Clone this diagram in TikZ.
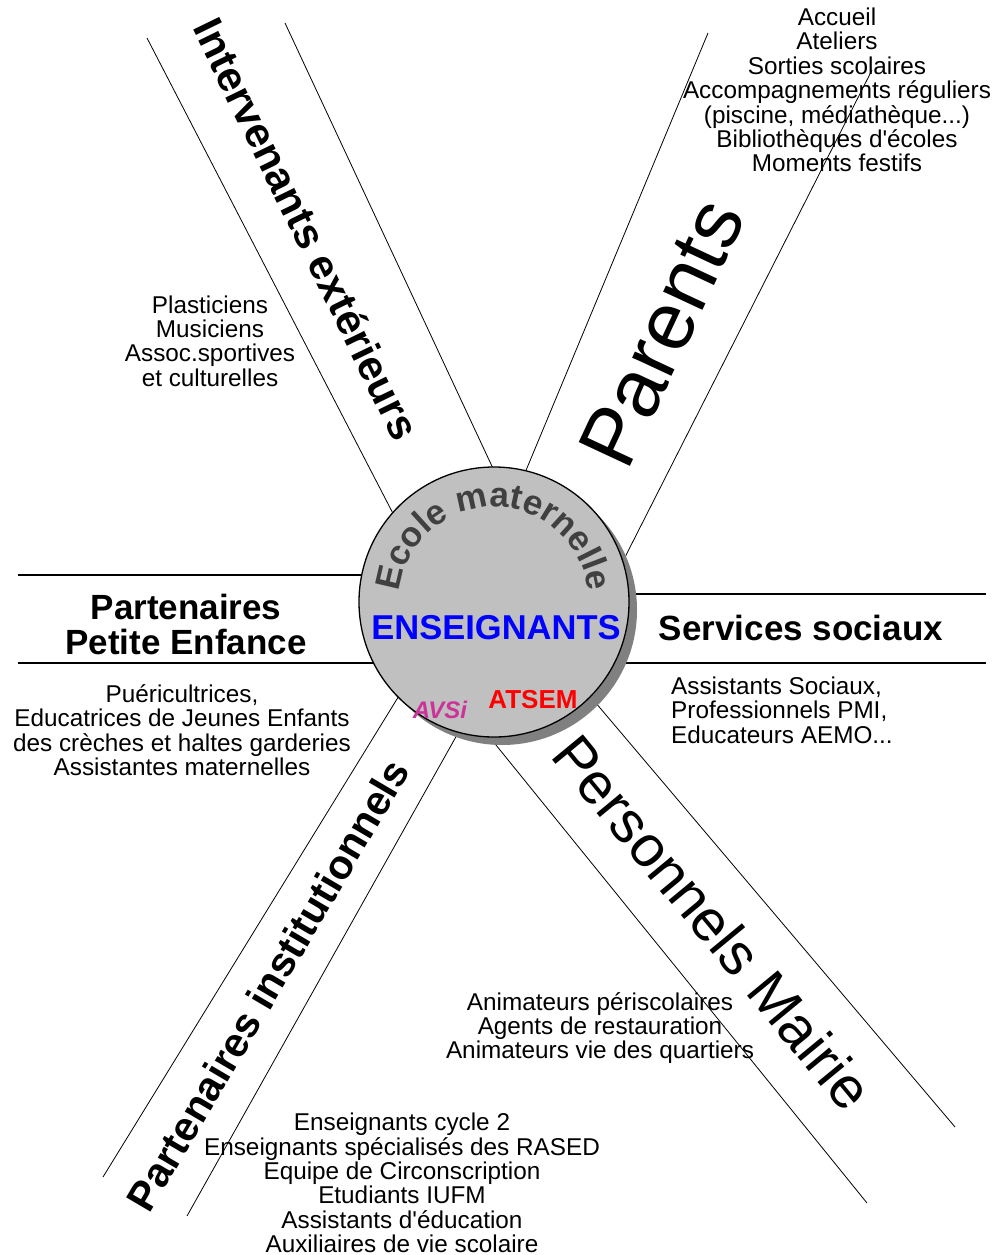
\documentclass[tikz,border=0pt]{standalone}
\usepackage{fontspec}
\setmainfont{Liberation Sans}[Ligatures=TeXOff]
\usetikzlibrary{decorations.text}
\definecolor{fond}{HTML}{C0C0C0}
\definecolor{ombre}{HTML}{808080}
\definecolor{grisecole}{HTML}{404040}
\definecolor{rose}{HTML}{CC3399}
\tikzset{branche/.style={black, line width=0.8pt},
         axe/.style={black, line width=1.8pt},
         liste/.style={align=center, inner sep=0pt, font=\fontsize{24.3}{24.4}\selectfont},
         titre/.style={inner sep=0pt, font=\bfseries\fontsize{42}{42}\selectfont}}

\begin{document}
\begin{tikzpicture}[x=1pt, y=-1pt]
   \fill[white] (0,0) rectangle (993,1255);
   \useasboundingbox (0,0) rectangle (993,1255);
   % les branches
   \coordinate (ie1) at (147,38);   \coordinate (ie1c) at (400,527);
   \coordinate (ie2) at (285,23);   \coordinate (ie2c) at (497,477);
   \coordinate (pa1) at (708,33);   \coordinate (pa1c) at (522,480);
   \coordinate (pa2) at (872,70);   \coordinate (pa2c) at (620,567);
   \coordinate (pe1) at (18,575);   \coordinate (pe1c) at (380,575);
   \coordinate (pe2) at (18,663);   \coordinate (pe2c) at (390,663);
   \coordinate (ss1) at (986,594);  \coordinate (ss1c) at (620,594);
   \coordinate (ss2) at (986,663);  \coordinate (ss2c) at (600,663);
   \coordinate (pi1) at (103,1177); \coordinate (pi1c) at (405,686);
   \coordinate (pi2) at (187,1216); \coordinate (pi2c) at (462,726);
   \coordinate (pm1) at (955,1127); \coordinate (pm1c) at (584,689);
   \coordinate (pm2) at (867,1203); \coordinate (pm2c) at (483,729);
   \draw[branche] (ie1) -- (ie1c);
   \draw[branche] (ie2) -- (ie2c);
   \draw[branche] (pa1) -- (pa1c);
   \draw[branche] (pa2) -- (pa2c);
   \draw[axe] (pe1) -- (pe1c);
   \draw[axe] (pe2) -- (pe2c);
   \draw[axe] (ss1) -- (ss1c);
   \draw[axe] (ss2) -- (ss2c);
   \draw[branche] (pi1) -- (pi1c);
   \draw[branche] (pi2) -- (pi2c);
   \draw[branche] (pm1) -- (pm1c);
   \draw[branche] (pm2) -- (pm2c);
   % l'ecole
   \node[circle, fill=ombre, minimum size=270pt, inner sep=0pt] (ombre) at (502,610) {};
   \node[circle, draw, line width=1.3pt, fill=fond, minimum size=270pt, inner sep=0pt] (ecole) at (494,602) {};
   \path[decorate, decoration={text along path, text align=center, text color=grisecole,
         text={|\bfseries\fontsize{35}{35}\selectfont|Ecole maternelle}}]
         (ecole.center) ++(-95,0) arc[start angle=180, end angle=360, radius=95];
   \node[inner sep=0pt, text=blue, font=\bfseries\fontsize{34.5}{34.5}\selectfont] (ens) at (496,628) {ENSEIGNANTS};
   \node[inner sep=0pt, text=red, font=\bfseries\fontsize{26}{26}\selectfont] (atsem) at (533,700) {ATSEM};
   \node[inner sep=0pt, text=rose, font=\bfseries\itshape\fontsize{24}{24}\selectfont] (avsi) at (440,710) {AVSi};
   % les titres
   \node[titre, rotate=-64] (tinter) at (307,229) {Intervenants extérieurs};
   \node[titre, font=\fontsize{82}{82}\selectfont, rotate=65] (tparents) at (662,333) {Parents};
   \node[titre, align=center, font=\bfseries\fontsize{35}{35}\selectfont] (tpetite) at (186,624) {Partenaires\\Petite Enfance};
   \node[titre, font=\bfseries\fontsize{35}{35}\selectfont] (tsociaux) at (801,628) {Services sociaux};
   \node[titre, font=\bfseries\fontsize{41}{41}\selectfont, rotate=59.5] (tinstit) at (268,985) {Partenaires institutionnels};
   \node[titre, font=\fontsize{58}{58}\selectfont, rotate=-50.5] (tmairie) at (713,922) {Personnels Mairie};
   % les listes
   \node[liste] (linter) at (210,341) {Plasticiens\\Musiciens\\Assoc.sportives\\et culturelles};
   \node[liste] (lparents) at (837,90) {Accueil\\Ateliers\\Sorties scolaires\\Accompagnements réguliers\\(piscine, médiathèque...)\\Bibliothèques d'écoles\\Moments festifs};
   \node[liste] (lpetite) at (182,730) {Puéricultrices,\\Educatrices de Jeunes Enfants\\des crèches et haltes garderies\\Assistantes maternelles};
   \node[liste, align=left, anchor=west] (lsociaux) at (671,710) {Assistants Sociaux,\\Professionnels PMI,\\Educateurs AEMO...};
   \node[liste] (lmairie) at (600,1028) {Animateurs périscolaires\\Agents de restauration\\Animateurs vie des quartiers};
   \node[liste] (linstit) at (402,1183) {Enseignants cycle 2\\Enseignants spécialisés des RASED\\Equipe de Circonscription\\Etudiants IUFM\\Assistants d'éducation\\Auxiliaires de vie scolaire};
\end{tikzpicture}
\end{document}
